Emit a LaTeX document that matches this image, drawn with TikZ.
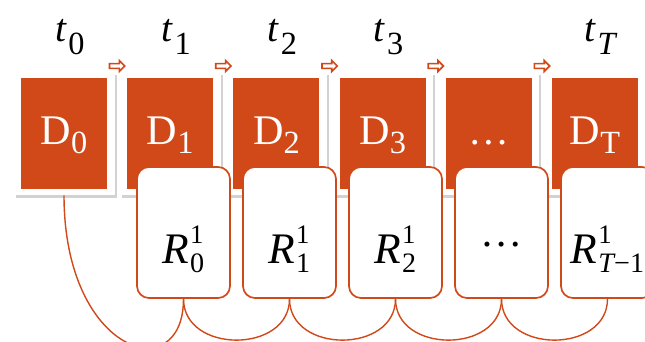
\documentclass[tikz,border=0pt]{standalone}
\usepackage{fontspec}
\setmainfont{Liberation Serif}
\usepackage{tikz}
\usetikzlibrary{shapes.arrows, shadows}
\definecolor{PptOrange}{RGB}{209,73,25}
% slide-style labels: big sub- and superscripts
\newcommand{\tlabel}[1]{{\fontsize{28}{30}\selectfont\textit{t}}\kern1pt\raisebox{-9pt}{\fontsize{23}{25}\selectfont #1}}
\newcommand{\dlabel}[1]{{\fontsize{30}{32}\selectfont D}\raisebox{-7pt}{\fontsize{23}{25}\selectfont #1}}
\newcommand{\rlabel}[1]{{\fontsize{31}{33}\selectfont\textit{R}}\kern0.5pt\rlap{\raisebox{14pt}{\fontsize{19}{20}\selectfont 1}}\raisebox{-6.5pt}{\fontsize{20}{22}\selectfont #1}}
\tikzset{
dframe/.style={fill=white, inner sep=0pt, minimum width=2.525cm, minimum height=3.075cm,
  drop shadow={shadow xshift=1.5pt, shadow yshift=-2pt, fill=black!35}},
dbox/.style={fill=PptOrange, text=white, inner sep=0pt, minimum width=2.15cm, minimum height=2.775cm,
  text height=0.7cm, text depth=0.175cm, font=\fontsize{29}{32}\selectfont},
rbox/.style={draw=PptOrange, line width=1.2pt, fill=white, rounded corners=0.3cm, inner sep=0pt,
  minimum width=2.325cm, minimum height=3.275cm, text height=1.7cm, text depth=0.175cm,
  font=\fontsize{30}{33}\selectfont},
}
\begin{document}
\begin{tikzpicture}[
  x=0.025cm, y=-0.025cm,
  tlab/.style={anchor=base},
  nextarr/.style={single arrow, draw=PptOrange, fill=white, line width=1.2pt, inner sep=0.5pt,
    minimum height=0.38cm, minimum width=0.27cm, single arrow head extend=0.05cm},
  linkline/.style={draw=PptOrange, line width=1pt},
]
\useasboundingbox (0,0) rectangle (645,342);
\clip (0,0) rectangle (645,342);

%% ---- white frames with shadow, one per time step ----
\foreach \i in {0,...,5} {
  \pgfmathsetmacro\dx{64+106.2*\i}
  \node[dframe] (F\i) at (\dx,133.5) {};
}

%% ---- data boxes ----
\foreach \i/\dtext in {0/{\dlabel{0}}, 1/{\dlabel{1}}, 2/{\dlabel{2}},
                       3/{\dlabel{3}}, 4/{…}, 5/{\dlabel{T}}} {
  \node[dbox] (D\i) at (F\i) {\dtext};
}

%% ---- time labels (none over the dots box) ----
\foreach \i/\ttext in {0/0, 1/1, 2/2, 3/3, 5/{\textit{T}}} {
  \node[tlab] (T\i) at ([xshift=0.15cm]F\i.north |- 0,42) {\tlabel{\ttext}};
}

%% ---- small arrows between consecutive frames ----
\foreach \i in {0,...,4} {
  \node[nextarr] (A\i) at ([xshift=1.3cm]F\i.north |- 0,66) {};
}

%% ---- R boxes, hanging over the lower edge of the data boxes ----
\foreach \i/\rtext in {0/{\rlabel{0}}, 1/{\rlabel{1}}, 2/{\rlabel{2}}, 3/{\raisebox{12pt}{…}},
                       4/{\rlabel{\textit{T}\kern-1pt\symbol{"2212}1}}} {
  \pgfmathsetmacro\rx{183.5+106*\i}
  \node[rbox] (R\i) at (\rx,232.5) {\rtext};
}

%% ---- links along the bottom ----
\draw[linkline] (F0.south) .. controls +(0,160) and +(0,90) .. (R0.south);
\foreach \i [evaluate=\i as \j using int(\i+1)] in {0,...,3} {
  \draw[linkline] (R\i.south) .. controls +(0,55) and +(0,55) .. (R\j.south);
}
\end{tikzpicture}
\end{document}
